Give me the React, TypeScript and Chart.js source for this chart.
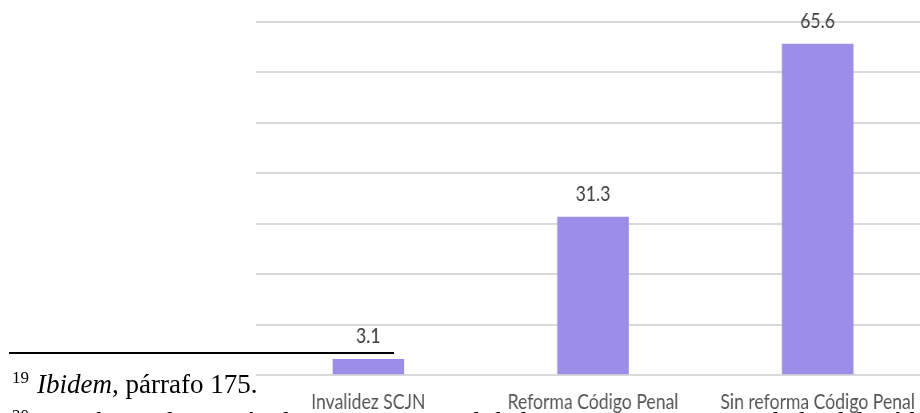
import React, { useEffect, useRef } from "react";
import { Chart, registerables } from "chart.js";

Chart.register(...registerables);

const categories: string[] = ["Invalidez SCJN", "Reforma Código Penal", "Sin reforma Código Penal"];
const values: number[] = [3.1, 31.3, 65.6];
const yMin = 0;
const yMax = 70;
const yStep = 10;

const footnote19Num = "19";
const footnote19Italic = "Ibidem";
const footnote19Rest = ", párrafo 175.";
const footnote20Num = "20";
const footnote20Text = "Se refiere a la Acción de inconstitucionalidad 148/2017, y su acumulada, del Código Penal";

// horizontal squash of the chart picture (the original is a compressed image)
const SQUASH = 0.8;
const CHART_FONT = "Lato, 'Noto Sans', sans-serif";

const valueLabels = {
  id: "valueLabels",
  afterDatasetsDraw(chart: any) {
    const ctx = chart.ctx;
    const meta = chart.getDatasetMeta(0);
    ctx.save();
    ctx.font = `22px ${CHART_FONT}`;
    ctx.fillStyle = "#404040";
    ctx.textAlign = "center";
    ctx.textBaseline = "alphabetic";
    meta.data.forEach((bar: any, i: number) => {
      const v = chart.data.datasets[0].data[i];
      ctx.fillText(String(v), bar.x, bar.y - 16);
    });
    ctx.restore();
  },
};

export default function App() {
  const canvasRef = useRef<HTMLCanvasElement | null>(null);

  useEffect(() => {
    if (!canvasRef.current) return;
    const chart = new Chart(canvasRef.current, {
      type: "bar",
      data: {
        labels: categories,
        datasets: [
          {
            data: values,
            backgroundColor: "#9b8de8",
            borderWidth: 0,
            barThickness: 71 / SQUASH,
          },
        ],
      },
      options: {
        animation: false,
        responsive: true,
        maintainAspectRatio: false,
        layout: { padding: { left: 256 / SQUASH, right: 10 / SQUASH, top: 22, bottom: 0 } },
        plugins: { legend: { display: false }, tooltip: { enabled: false } },
        scales: {
          x: {
            grid: { display: false, drawTicks: false },
            border: { display: false },
            ticks: {
              color: "#555555",
              font: { family: CHART_FONT, size: 22 },
              padding: 14,
              maxRotation: 0,
              autoSkip: false,
            },
            afterFit: (s: any) => {
              s.height = 38;
              s.paddingLeft = 0;
              s.paddingRight = 0;
            },
          },
          y: {
            min: yMin,
            max: yMax,
            ticks: { display: false, stepSize: yStep },
            grid: { color: "#d9d9d9", lineWidth: 2, drawTicks: false },
            border: { display: false },
            afterFit: (s: any) => {
              s.width = 0;
            },
          },
        },
      },
      plugins: [valueLabels],
    });
    return () => chart.destroy();
  }, []);

  const serif = "'Liberation Serif', 'Times New Roman', serif";

  return (
    <div
      style={{
        position: "fixed",
        left: 0,
        top: 0,
        width: 920,
        height: 413,
        overflow: "hidden",
        background: "#ffffff",
      }}
    >
      <div
        style={{
          position: "absolute",
          left: 0,
          top: 0,
          width: 940 / SQUASH,
          height: 413,
          transform: `scaleX(${SQUASH})`,
          transformOrigin: "0 0",
        }}
      >
        <canvas ref={canvasRef} />
      </div>
      <div
        style={{
          position: "absolute",
          left: 9,
          top: 352,
          width: 385,
          height: 2,
          background: "#000000",
        }}
      />
      <div
        style={{
          position: "absolute",
          left: 0,
          top: 366,
          width: 920,
          height: 36,
          fontFamily: serif,
          fontSize: 27,
          lineHeight: "36px",
          color: "#000000",
          whiteSpace: "nowrap",
        }}
      >
        <span style={{ position: "absolute", left: 12, top: -6, fontSize: 17 }}>{footnote19Num}</span>
        <span style={{ position: "absolute", left: 37, top: 0 }}>
          <i>{footnote19Italic}</i>
          {footnote19Rest}
        </span>
      </div>
      <div
        style={{
          position: "absolute",
          left: 0,
          top: 404,
          width: 920,
          height: 36,
          fontFamily: serif,
          fontSize: 27,
          lineHeight: "36px",
          color: "#000000",
          whiteSpace: "nowrap",
        }}
      >
        <span style={{ position: "absolute", left: 12, top: -6, fontSize: 17 }}>{footnote20Num}</span>
        <span style={{ position: "absolute", left: 37, top: 0 }}>{footnote20Text}</span>
      </div>
    </div>
  );
}
